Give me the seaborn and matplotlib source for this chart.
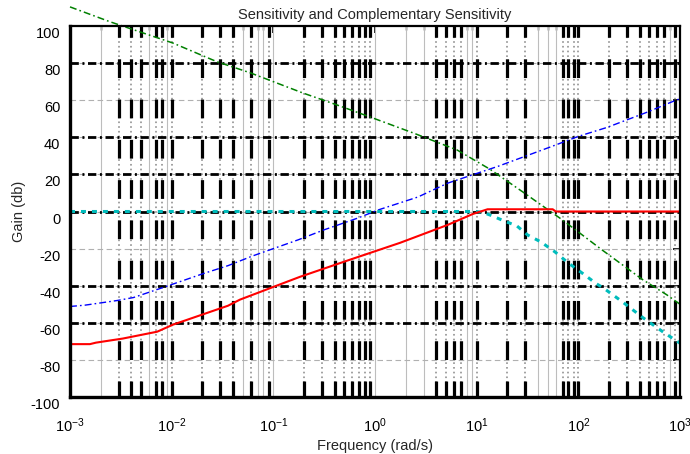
import numpy as np
import pandas as pd
import matplotlib
matplotlib.use("Agg")
import matplotlib.pyplot as plt
import matplotlib.transforms as mtransforms
from matplotlib.ticker import FixedLocator, LogLocator, NullFormatter
import seaborn as sns

# Loop gain L (dB) versus frequency (rad/s)
loop_freq = [1e-3, 2.47e-3, 1.03e-2, 2.8e-2, 5.9e-2, 0.195, 0.42, 0.89, 2.36, 6.4,
             13.5, 28.5, 70, 170, 431, 741, 1000]
loop_db = [110.3, 102.3, 90.8, 80.7, 74.8, 63.9, 57.5, 51.0, 42.4, 33.2,
           22.8, 10.5, -4.6, -20.6, -36.8, -44.9, -50.0]

# Performance weight (dB)
weight_freq = [1e-3, 1.4e-3, 2.9e-3, 4.2e-3, 8.2e-3, 2.04e-2, 3.58e-2, 6.3e-2, 0.175, 0.315,
               0.68, 1.07, 2.64, 5.2, 16.3, 55, 100, 191, 468, 940, 1000]
weight_db = [-51.2, -50.5, -48.0, -46.4, -41.0, -33.5, -29.2, -23.9, -15.3, -9.9,
             -3.5, 0.8, 7.8, 15.3, 24.4, 35.1, 40.5, 45.3, 53.4, 60.3, 60.6]

# Sensitivity S (dB)
sens_freq = [1e-3, 1.57e-3, 1.8e-3, 3.3e-3, 7.2e-3, 1.03e-2, 3.58e-2, 4.7e-2, 0.183, 0.566,
             1.76, 5.2, 9.2, 12.8, 56, 60, 1000]
sens_db = [-71.5, -71.5, -70.7, -68.5, -64.8, -61.0, -50.8, -47.5, -35.2, -26.0,
           -16.9, -7.2, -1.3, 1.2, 1.2, 0.0, 0.0]

# Complementary sensitivity T (dB)
comp_freq = [1e-3, 10, 12, 14.3, 17.7, 24.9, 31.8, 42.8, 59, 79, 111, 150, 174, 270,
             431, 676, 1000]
comp_db = [0.0, 0.0, -0.8, -2.4, -4.6, -7.8, -12.7, -16.4, -21.8, -27.6, -33.5, -38.9,
           -41.0, -48.6, -57.2, -64.8, -71.0]

y_ticks = [-100, -80, -60, -40, -20, 0, 20, 40, 60, 80, 100]
x_decades = [1e-3, 1e-2, 1e-1, 1e0, 1e1, 1e2, 1e3]
# rows and columns of the grid drawn in heavy black
heavy_rows = [80, 40, 20, 0, -40, -60]
heavy_cols = [3e-3, 4e-3, 5e-3, 7e-3, 8e-3, 1e-2,
              2e-2, 3e-2, 4e-2, 6e-2, 9e-2,
              0.2, 0.3, 0.4, 0.5, 0.6, 0.7, 0.8, 0.9,
              4, 5, 6, 7, 10,
              20, 30, 70, 80, 90, 100,
              200, 300, 400, 500, 600, 700, 900]

sns.set_theme(style="white")
plt.rcParams["font.family"] = ["Liberation Sans", "DejaVu Sans"]
plt.rcParams["mathtext.fontset"] = "custom"
plt.rcParams["mathtext.rm"] = "Liberation Sans"
plt.rcParams["mathtext.it"] = "Liberation Sans"
plt.rcParams["mathtext.default"] = "regular"
plt.rcParams["axes.unicode_minus"] = False
plt.rcParams["lines.scale_dashes"] = False

fig = plt.figure(figsize=(6.9, 4.54), dpi=100)
ax = fig.add_axes([70 / 690, 57 / 454, 610 / 690, 371 / 454])
ax.set_xscale("log")
ax.set_xlim(1e-3, 1e3)
ax.set_ylim(-100, 100)

# vertical grid at every decade subdivision
grid_cols = [m * 10.0 ** d for d in range(-3, 3) for m in range(1, 10)] + [1e3]
for xc in grid_cols:
    if any(abs(xc / h - 1) < 1e-6 for h in heavy_cols):
        ax.axvline(xc, color="#9a9a9a", lw=1.3, linestyle=(0, (1.2, 2.2)), zorder=1)
        ax.axvline(xc, color="black", lw=2.3, linestyle=(2.0, (13.5, 15.5)), zorder=2)
    else:
        ax.axvline(xc, color="#bdbdbd", lw=0.8, zorder=1)

# horizontal grid
for yv in y_ticks[1:-1]:
    ax.axhline(yv, color="#b0b0b0", lw=0.8, linestyle=(0, (4, 2.5)), zorder=1)
for yv in heavy_rows:
    ax.axhline(yv, color="black", lw=2.0, linestyle=(0, (6.0, 2.6, 1.4, 2.6)), zorder=2)

def draw(freq, db, color, lw, style, clip=True):
    df = pd.DataFrame({"freq": freq, "db": db})
    sns.lineplot(data=df, x="freq", y="db", ax=ax, color=color, lw=lw,
                 estimator=None, sort=False, zorder=3)
    line = ax.lines[-1]
    line.set_linestyle(style)
    line.set_clip_on(clip)
    return line

draw(loop_freq, loop_db, "#008000", 1.1, (0, (5.0, 2.2, 1.2, 2.2)), clip=False)
draw(weight_freq, weight_db, "#0000ff", 1.0, (0, (5.0, 2.2, 1.2, 2.2)))
draw(comp_freq, comp_db, "#00bcbc", 2.2, (0, (3.6, 4.3)))
draw(sens_freq, sens_db, "#ff0000", 1.5, "-")

ax.xaxis.set_major_locator(FixedLocator(x_decades))
ax.xaxis.set_minor_locator(LogLocator(base=10, subs=np.arange(2, 10), numticks=20))
ax.xaxis.set_minor_formatter(NullFormatter())
ax.yaxis.set_major_locator(FixedLocator(y_ticks))
ax.set_xticklabels([r"$10^{%d}$" % int(round(np.log10(v))) for v in x_decades])

ax.tick_params(axis="both", which="both", direction="in", colors="black",
               top=True, right=True, labelsize=10.5)
ax.tick_params(axis="both", which="major", length=5, width=1.2)
ax.tick_params(axis="both", which="minor", length=3, width=1.0)
ax.tick_params(axis="x", which="major", pad=14)
ax.tick_params(axis="y", which="major", pad=7)

shift = mtransforms.ScaledTranslation(0, -0.065, fig.dpi_scale_trans)
for tick in ax.yaxis.get_major_ticks():
    tick.label1.set_transform(tick.label1.get_transform() + shift)

for side, w in [("left", 2.4), ("bottom", 2.4), ("top", 1.6), ("right", 1.6)]:
    ax.spines[side].set_visible(True)
    ax.spines[side].set_color("black")
    ax.spines[side].set_linewidth(w)
    ax.spines[side].set_zorder(5)

ax.set_title("Sensitivity and Complementary Sensitivity", fontsize=10.5, pad=5)
ax.set_xlabel("Frequency (rad/s)", fontsize=10.5, labelpad=3)
ax.set_ylabel("Gain (db)", fontsize=10.5)
ax.yaxis.set_label_coords(-0.072, 0.5)

fig.savefig("out.png", dpi=100)
